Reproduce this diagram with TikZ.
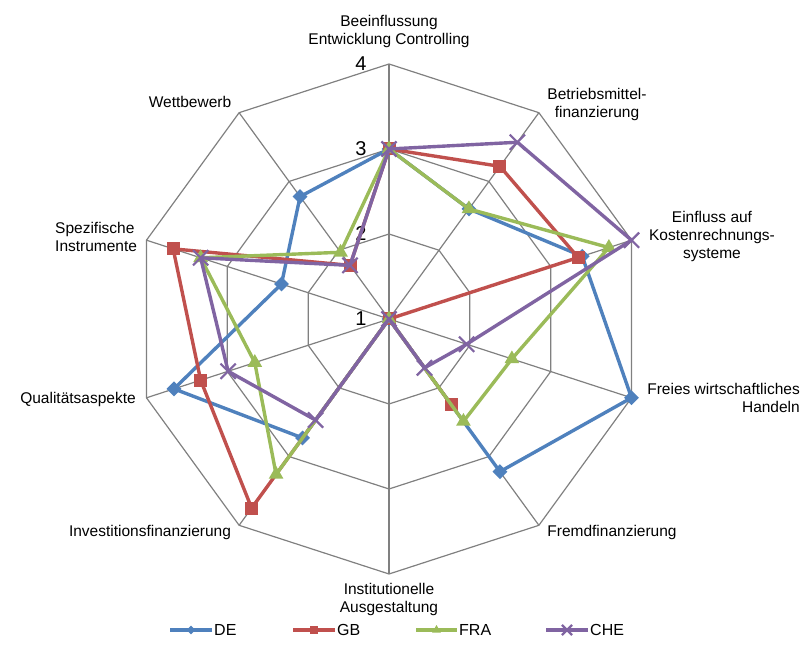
\documentclass[tikz,border=0pt]{standalone}
\usepackage{fontspec}
\setmainfont{Liberation Sans}
\usetikzlibrary{shapes.geometric,shapes.misc,calc}
\definecolor{cde}{HTML}{4F81BD}
\definecolor{cgb}{HTML}{C0504D}
\definecolor{cfra}{HTML}{9BBB59}
\definecolor{cche}{HTML}{8064A2}
\begin{document}
\begin{tikzpicture}[x=1pt,y=1pt,
  grid/.style={draw=black!50,line width=1.2pt},
  lbl/.style={font=\fontsize{15.5}{18}\selectfont,align=center,inner sep=0pt},
  num/.style={font=\fontsize{20}{22}\selectfont,inner sep=0pt},
  ser/.style={line width=3.4pt,line join=round},
  mdia/.style={diamond,fill=#1,inner sep=0pt,minimum size=15pt},
  msq/.style={rectangle,fill=#1,inner sep=0pt,minimum size=13pt},
  mtri/.style={regular polygon,regular polygon sides=3,fill=#1,inner sep=0pt,minimum size=17pt},
  mx/.style={cross out,draw=#1,line width=2.2pt,inner sep=0pt,minimum size=13pt}]
\useasboundingbox (0,0) rectangle (805,653);
\coordinate (C) at (389,334);
% grid
\foreach \r in {85,170,255}{
  \draw[grid] ($(C)+(90:\r)$) \foreach \i in {1,...,9}{ -- ($(C)+({90-36*\i}:\r)$)} -- cycle;}
\foreach \i in {0,...,9}{\draw[grid] (C) -- ($(C)+({90-36*\i}:255)$);}
% numbers
\node[num] (n4) at (361,589) {4};
\node[num] (n3) at (361,504) {3};
\node[num] (n2) at (361,419) {2};
\node[num] (n1) at (361,334) {1};
% labels
\node[lbl] (l0) at (389,621) {Beeinflussung\\Entwicklung Controlling};
\node[lbl] (l1) at (597,549) {Betriebsmittel-\\finanzierung};
\node[lbl] (l2) at (712,417) {Einfluss auf\\Kostenrechnungs-\\systeme};
\node[lbl,align=right,anchor=east] (l3) at (800,255) {Freies wirtschaftliches\\Handeln};
\node[lbl] (l4) at (612,121) {Fremdfinanzierung};
\node[lbl] (l5) at (389,54) {Institutionelle\\Ausgestaltung};
\node[lbl] (l6) at (150,121) {Investitionsfinanzierung};
\node[lbl] (l7) at (78,254) {Qualitätsaspekte};
\node[lbl,align=left,anchor=west] (l8) at (55,416) {Spezifische\\Instrumente};
\node[lbl] (l9) at (190,551) {Wettbewerb};
% series
\newcommand{\series}[4]{%
  \foreach \v [count=\i from 0] in {#1}{\coordinate (#2\i) at ($(C)+({90-36*\i}:{(\v-1)*85})$);}
  \draw[ser,#3] (#20) \foreach \i in {1,...,9}{ -- (#2\i)} -- cycle;
  \foreach \i in {0,...,9}{\node[#4=#3] at (#2\i) {};}}
\series{3,2.6,3.39,4,3.22,1,2.73,3.66,2.33,2.78}{de}{cde}{mdia}
\series{3,3.22,3.34,1,2.25,1,3.75,3.33,3.67,1.78}{gb}{cgb}{msq}
\series{3,2.6,3.72,2.52,2.49,1,3.26,2.66,3.33,1.97}{fr}{cfra}{mtri}
\series{3,3.57,4,1.96,1.71,1,2.47,2.99,3.33,1.78}{ch}{cche}{mx}
% legend
\tikzset{leg/.style={font=\fontsize{16}{18}\selectfont,anchor=west,inner sep=0pt}}
\coordinate (a1) at (170,23); \coordinate (b1) at (212,23);
\draw[ser,cde] (a1) -- (b1); \node[mdia=cde,minimum size=9pt] at ($(a1)!.5!(b1)$) {};
\node[leg] (t1) at (214,23) {DE};
\coordinate (a2) at (293,23); \coordinate (b2) at (335,23);
\draw[ser,cgb] (a2) -- (b2); \node[msq=cgb,minimum size=8pt] at ($(a2)!.5!(b2)$) {};
\node[leg] (t2) at (337,23) {GB};
\coordinate (a3) at (416,23); \coordinate (b3) at (457,23);
\draw[ser,cfra] (a3) -- (b3); \node[mtri=cfra,minimum size=10pt] at ($(a3)!.5!(b3)$) {};
\node[leg] (t3) at (459,23) {FRA};
\coordinate (a4) at (546,23); \coordinate (b4) at (588,23);
\draw[ser,cche] (a4) -- (b4); \node[mx=cche,minimum size=8pt] at ($(a4)!.5!(b4)$) {};
\node[leg] (t4) at (590,23) {CHE};
\end{tikzpicture}
\end{document}
